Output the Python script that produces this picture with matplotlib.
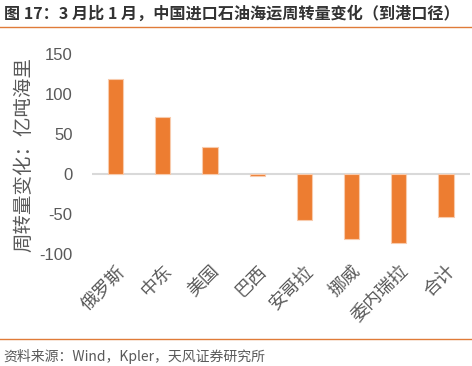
import matplotlib
matplotlib.use("Agg")
import matplotlib.pyplot as plt
from matplotlib.lines import Line2D

plt.rcParams['font.family'] = ['Liberation Sans', 'Noto Sans CJK SC', 'DejaVu Sans']

# ---------------------------------------------------------------------------
# Data
# ---------------------------------------------------------------------------
categories = ["俄罗斯", "中东", "美国", "巴西", "安哥拉", "挪威", "委内瑞拉", "合计"]
changes = [119, 71, 34, -2, -57, -81, -86, -54]
y_ticks = [-100, -50, 0, 50, 100, 150]

TITLE = "图 17：3 月比 1 月，中国进口石油海运周转量变化（到港口径）"
SOURCE = "资料来源：Wind，Kpler，天风证券研究所"
YLABEL = "周转量变化：亿吨海里"

BAR_COLOR = "#ED7D31"
EDGE_COLOR = "#F8CBAD"
TEXT_GRAY = "#595959"

# ---------------------------------------------------------------------------
# Plot
# ---------------------------------------------------------------------------
fig = plt.figure(figsize=(4.72, 3.66), dpi=100)
ax = fig.add_axes([0.195, 0.306, 0.80, 0.546])

x = range(len(categories))
ax.bar(x, changes, width=0.32, color=BAR_COLOR, edgecolor=EDGE_COLOR, linewidth=0.8, zorder=2)
ax.axhline(0, color="#D9D9D9", linewidth=1.5, zorder=1)

ax.set_xlim(-0.5, len(categories) - 0.5)
ax.set_ylim(-100, 150)
ax.set_yticks(y_ticks)
ax.set_yticklabels([str(v) for v in y_ticks], color=TEXT_GRAY, fontsize=12)
ax.set_xticks(list(x))
ax.set_xticklabels(categories, rotation=45, ha="right", va="top", rotation_mode="anchor",
                   fontsize=13, color=TEXT_GRAY, family=['Noto Sans CJK SC'])
ax.tick_params(axis="y", length=0, pad=14)
ax.tick_params(axis="x", length=0, pad=6)
for s in ax.spines.values():
    s.set_visible(False)
ax.set_ylabel(YLABEL, fontsize=14, color=TEXT_GRAY, family=['Noto Sans CJK SC'], labelpad=4)

# title and footer
fig.text(0.008, 0.963, TITLE, fontsize=11.6, fontweight="bold", color="#333333",
         family=['Noto Sans CJK SC'], ha="left", va="center")
fig.add_artist(Line2D([0, 1], [0.926, 0.926], color="#E07B39", linewidth=1.0, transform=fig.transFigure))
fig.add_artist(Line2D([0, 1], [0.074, 0.074], color="#E07B39", linewidth=1.0, transform=fig.transFigure))
fig.text(0.008, 0.025, SOURCE, fontsize=10, color=TEXT_GRAY,
         family=['Noto Sans CJK SC'], ha="left", va="center")

fig.savefig("out.png", dpi=100)
